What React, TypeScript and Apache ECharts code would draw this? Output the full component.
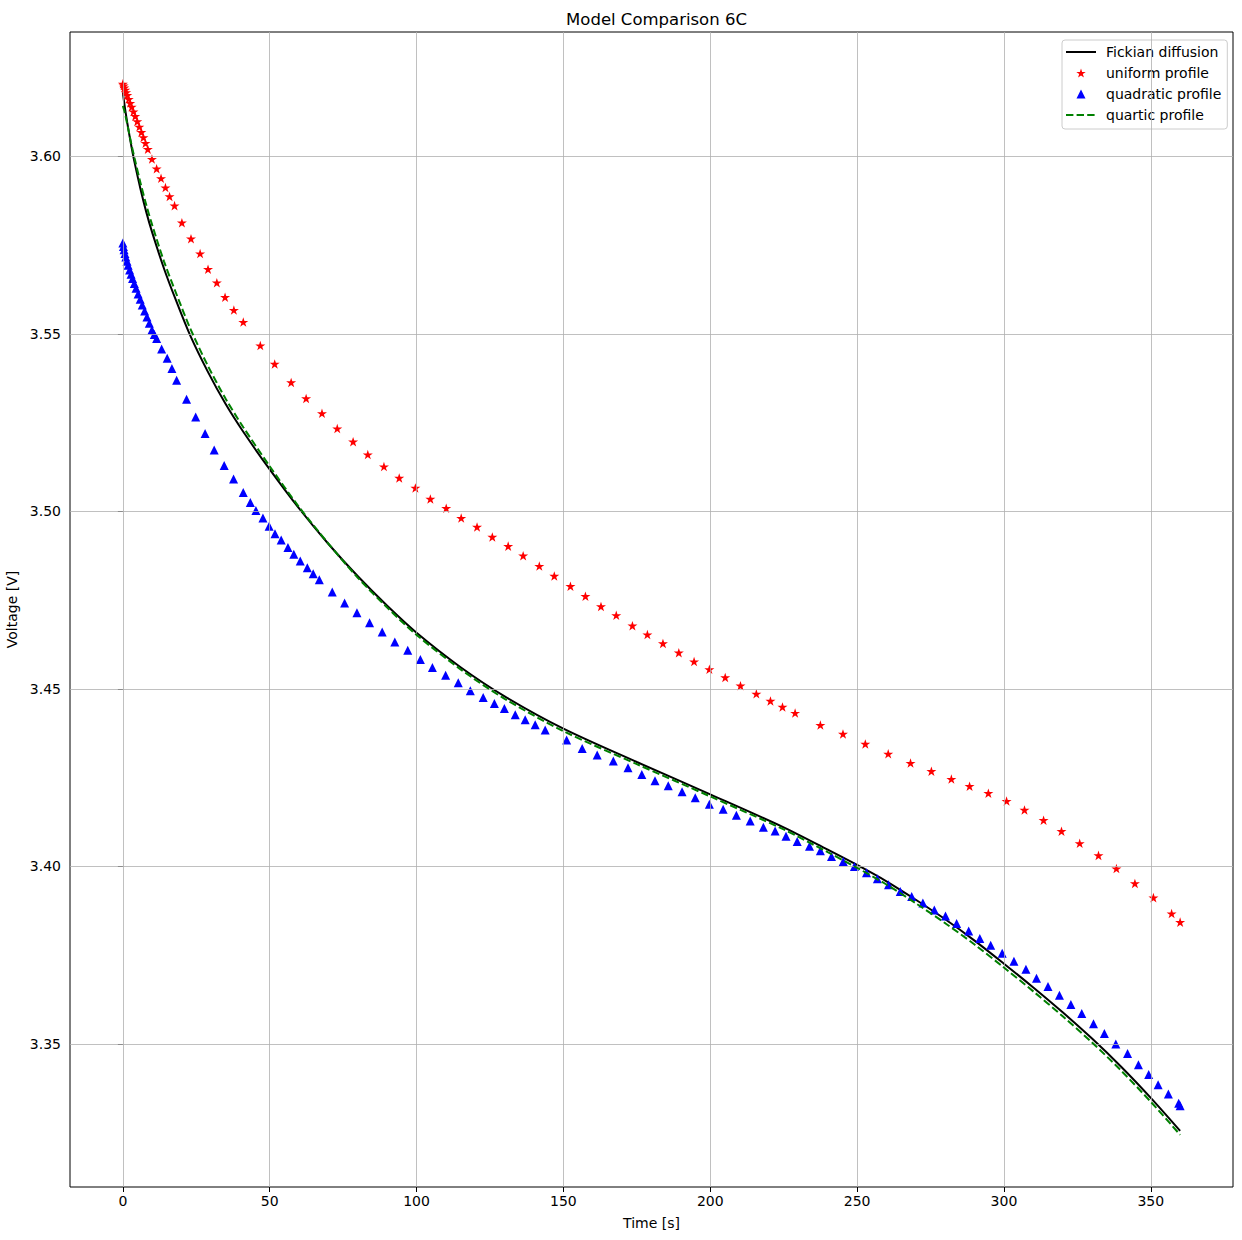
import React, { useEffect, useRef } from "react";
import * as echarts from "echarts";

const fickTime = [0, 0.5, 1, 2, 3, 4, 6, 8, 10, 14, 18, 23, 29, 35, 41, 50, 60, 70, 80, 90, 100, 115, 130, 150, 175, 200, 225, 240, 250, 260, 270, 280, 290, 300, 310, 320, 330, 340, 350, 360];
const fickV = [3.618, 3.6148, 3.612, 3.607, 3.6024, 3.5982, 3.5908, 3.5842, 3.5785, 3.5684, 3.5596, 3.5494, 3.5392, 3.5302, 3.5224, 3.5118, 3.5008, 3.4908, 3.4817, 3.4734, 3.4658, 3.4561, 3.4479, 3.4388, 3.4294, 3.4203, 3.411, 3.4047, 3.4004, 3.3958, 3.3906, 3.3851, 3.3791, 3.3726, 3.3659, 3.3589, 3.3515, 3.3435, 3.3348, 3.3255];
const quarticV = [3.6142, 3.6128, 3.611, 3.607, 3.603, 3.5994, 3.5925, 3.5862, 3.5806, 3.5704, 3.5617, 3.5514, 3.5409, 3.5317, 3.5237, 3.5127, 3.5012, 3.4909, 3.4813, 3.4729, 3.4652, 3.4555, 3.4472, 3.4381, 3.4288, 3.4197, 3.4104, 3.404, 3.3996, 3.3949, 3.3896, 3.384, 3.378, 3.3715, 3.3648, 3.3578, 3.3504, 3.3424, 3.3337, 3.3244];

const uniformTime = [0, 0.25, 0.5, 0.8, 1.1, 1.5, 2.0, 2.5, 3.0, 3.6, 4.2, 4.9, 5.6, 6.3, 7.0, 7.7, 8.5, 9.9, 11.5, 13.0, 14.5, 15.9, 17.6, 20.1, 23.2, 26.3, 29.0, 32.0, 34.8, 37.8, 41.0, 46.8, 51.7, 57.3, 62.4, 67.8, 73.0, 78.4, 83.4, 88.9, 94.1, 99.6, 104.7, 110.1, 115.2, 120.6, 125.8, 131.2, 136.3, 141.8, 146.9, 152.4, 157.5, 162.8, 168.0, 173.5, 178.6, 183.9, 189.3, 194.5, 199.7, 205.1, 210.3, 215.7, 220.5, 224.6, 228.9, 237.5, 245.2, 252.8, 260.6, 268.2, 275.3, 282.1, 288.3, 294.7, 300.9, 307.0, 313.5, 319.6, 325.8, 332.2, 338.3, 344.6, 350.9, 357.1, 360.0];
const uniformV = [3.6204, 3.6199, 3.6193, 3.6187, 3.618, 3.6172, 3.6161, 3.615, 3.6139, 3.6126, 3.6113, 3.6098, 3.6083, 3.6068, 3.6053, 3.6037, 3.602, 3.5992, 3.5965, 3.5938, 3.5912, 3.5887, 3.5861, 3.5813, 3.5768, 3.5726, 3.5682, 3.5644, 3.5603, 3.5567, 3.5533, 3.5467, 3.5415, 3.5363, 3.5318, 3.5276, 3.5233, 3.5196, 3.516, 3.5126, 3.5094, 3.5066, 3.5035, 3.5009, 3.4981, 3.4956, 3.4928, 3.4902, 3.4875, 3.4846, 3.4818, 3.4789, 3.4761, 3.4732, 3.4707, 3.4678, 3.4653, 3.4628, 3.4602, 3.4577, 3.4555, 3.4532, 3.4509, 3.4486, 3.4466, 3.4449, 3.4432, 3.4398, 3.4373, 3.4345, 3.4317, 3.4291, 3.4268, 3.4246, 3.4226, 3.4206, 3.4184, 3.4159, 3.413, 3.4099, 3.4065, 3.4031, 3.3994, 3.3952, 3.3912, 3.3867, 3.3843];

const quadTime = [0, 0.2, 0.4, 0.7, 1.0, 1.4, 1.8, 2.3, 2.8, 3.3, 3.9, 4.5, 5.2, 5.9, 6.6, 7.4, 8.2, 9.0, 9.9, 10.7, 11.5, 13.2, 15.1, 16.7, 18.3, 21.7, 24.8, 28.0, 31.1, 34.5, 37.7, 41.0, 43.4, 45.3, 47.7, 49.8, 51.8, 53.9, 56.2, 58.2, 60.4, 62.8, 64.8, 66.9, 71.3, 75.5, 79.7, 84.0, 88.3, 92.6, 97.0, 101.3, 105.4, 109.9, 114.2, 118.3, 122.7, 126.5, 129.9, 133.6, 137.0, 140.4, 143.8, 151.1, 156.4, 161.5, 167.0, 172.0, 176.7, 181.2, 185.7, 190.4, 194.9, 199.7, 204.4, 208.9, 213.6, 218.1, 222.1, 225.8, 229.6, 233.8, 237.5, 241.3, 245.3, 249.1, 253.2, 256.9, 260.7, 264.7, 268.6, 272.4, 276.3, 280.1, 283.9, 288.0, 291.8, 295.5, 299.4, 303.4, 307.5, 311.1, 315.0, 318.9, 322.8, 326.5, 330.5, 334.2, 338.1, 342.1, 345.8, 349.3, 352.5, 356.0, 359.5, 360.0];
const quadV = [3.5756, 3.5746, 3.5737, 3.5726, 3.5716, 3.5704, 3.5693, 3.568, 3.5668, 3.5656, 3.5642, 3.5628, 3.5612, 3.5597, 3.5581, 3.5564, 3.5547, 3.553, 3.5511, 3.5498, 3.5487, 3.5457, 3.5431, 3.5402, 3.5369, 3.5316, 3.5266, 3.5219, 3.5173, 3.5129, 3.5091, 3.5053, 3.5025, 3.5002, 3.4981, 3.4958, 3.4937, 3.4919, 3.4898, 3.4879, 3.486, 3.4841, 3.4824, 3.4807, 3.4773, 3.4742, 3.4714, 3.4686, 3.466, 3.4632, 3.4609, 3.4583, 3.456, 3.4538, 3.4517, 3.4495, 3.4476, 3.4459, 3.4445, 3.4427, 3.4413, 3.4399, 3.4384, 3.4356, 3.4332, 3.4314, 3.4297, 3.4278, 3.4259, 3.4241, 3.4227, 3.421, 3.4193, 3.4175, 3.4161, 3.4144, 3.4128, 3.411, 3.41, 3.4085, 3.407, 3.4057, 3.4044, 3.4028, 3.4014, 3.4, 3.3982, 3.3965, 3.3948, 3.3929, 3.3915, 3.3897, 3.3877, 3.386, 3.3839, 3.3818, 3.3797, 3.3778, 3.3755, 3.3733, 3.371, 3.3685, 3.3662, 3.3637, 3.3611, 3.3586, 3.3557, 3.3529, 3.35, 3.3473, 3.3441, 3.3414, 3.3385, 3.3359, 3.3333, 3.3326];

const xTicks = [0, 50, 100, 150, 200, 250, 300, 350];
const yTicks = [3.35, 3.4, 3.45, 3.5, 3.55, 3.6];

const seriesNames = ["Fickian diffusion", "uniform profile", "quadratic profile", "quartic profile"];

const STAR =
  "path://M50 0 L61.23 34.55 L97.55 34.55 L68.16 55.9 L79.39 90.45 L50 69.1 L20.61 90.45 L31.84 55.9 L2.45 34.55 L38.77 34.55 Z";
const TRI = "path://M50 0 L100 100 L0 100 Z";

const FONT = "DejaVu Sans";

export default function App() {
  const ref = useRef<HTMLDivElement>(null);

  useEffect(() => {
    document.body.style.margin = "0";
    if (!ref.current) return;
    const chart = echarts.init(ref.current, null, { renderer: "svg" });
    const pairs = (t: number[], v: number[]) => t.map((x, i) => [x, v[i]]);

    chart.setOption({
      animation: false,
      backgroundColor: "#ffffff",
      textStyle: { fontFamily: FONT },
      title: {
        text: "Model Comparison 6C",
        left: 651.5,
        top: 6,
        textAlign: "center",
        textStyle: { fontFamily: FONT, fontSize: 16.5, fontWeight: "normal", color: "#000" },
      },
      legend: {
        data: [
          { name: seriesNames[0], itemStyle: { opacity: 0 } },
          { name: seriesNames[1] },
          { name: seriesNames[2], icon: TRI },
          { name: seriesNames[3], itemStyle: { opacity: 0 } },
        ],
        orient: "vertical",
        left: 1062,
        top: 40,
        itemWidth: 30,
        itemHeight: 9,
        itemGap: 7,
        padding: [5, 6, 7, 3],
        borderColor: "#cccccc",
        borderWidth: 1,
        borderRadius: 3,
        backgroundColor: "rgba(255,255,255,0.8)",
        textStyle: { fontFamily: FONT, fontSize: 14, color: "#000", padding: [0, 0, 0, 5] },
      },
      grid: {
        left: 70,
        top: 32,
        width: 1163,
        height: 1155,
        show: true,
        borderColor: "#000",
        borderWidth: 1,
        backgroundColor: "transparent",
        containLabel: false,
        outerBoundsMode: "none",
      },
      xAxis: {
        type: "value",
        min: -18,
        max: 378,
        name: "Time [s]",
        nameLocation: "middle",
        nameGap: 29,
        nameTextStyle: { fontFamily: FONT, fontSize: 14, color: "#000" },
        axisLine: { show: false },
        splitLine: { show: false },
        axisTick: { show: true, inside: false, length: 5, customValues: xTicks, lineStyle: { color: "#000", width: 1 } },
        axisLabel: { customValues: xTicks, margin: 7, fontFamily: FONT, fontSize: 14, color: "#000" },
      },
      yAxis: {
        type: "value",
        min: 3.3097,
        max: 3.635,
        name: "Voltage [V]",
        nameLocation: "middle",
        nameGap: 46,
        nameTextStyle: { fontFamily: FONT, fontSize: 14, color: "#000" },
        axisLine: { show: false },
        splitLine: { show: false },
        axisTick: { show: true, inside: false, length: 5, customValues: yTicks, lineStyle: { color: "#000", width: 1 } },
        axisLabel: {
          customValues: yTicks,
          margin: 9,
          fontFamily: FONT,
          fontSize: 14,
          color: "#000",
          formatter: (v: number) => v.toFixed(2),
        },
      },
      series: [
        {
          name: "grid",
          type: "line",
          data: [],
          silent: true,
          z: 1,
          markLine: {
            silent: true,
            symbol: ["none", "none"],
            label: { show: false },
            animation: false,
            lineStyle: { color: "#b0b0b0", width: 0.8, type: "solid" },
            data: [...xTicks.map((x) => ({ xAxis: x })), ...yTicks.map((y) => ({ yAxis: y }))],
          },
        },
        {
          name: seriesNames[0],
          type: "line",
          data: pairs(fickTime, fickV),
          symbol: "none",
          smooth: 0.3,
          lineStyle: { color: "#000000", width: 2 },
          itemStyle: { color: "#000000" },
          z: 2,
        },
        {
          name: seriesNames[1],
          type: "scatter",
          data: pairs(uniformTime, uniformV),
          symbol: STAR,
          symbolSize: 10,
          symbolKeepAspect: true,
          itemStyle: { color: "#ff0000", opacity: 1 },
          z: 3,
        },
        {
          name: seriesNames[2],
          type: "scatter",
          data: pairs(quadTime, quadV),
          symbol: TRI,
          symbolSize: 9,
          symbolKeepAspect: true,
          itemStyle: { color: "#0000ff", opacity: 1 },
          z: 4,
        },
        {
          name: seriesNames[3],
          type: "line",
          data: pairs(fickTime, quarticV),
          symbol: "none",
          smooth: 0.3,
          lineStyle: { color: "#008000", width: 2, type: [7.4, 3.2] },
          itemStyle: { color: "#008000" },
          z: 5,
        },
      ],
    });
    return () => chart.dispose();
  }, []);

  return <div ref={ref} style={{ width: 1242, height: 1240 }} />;
}
